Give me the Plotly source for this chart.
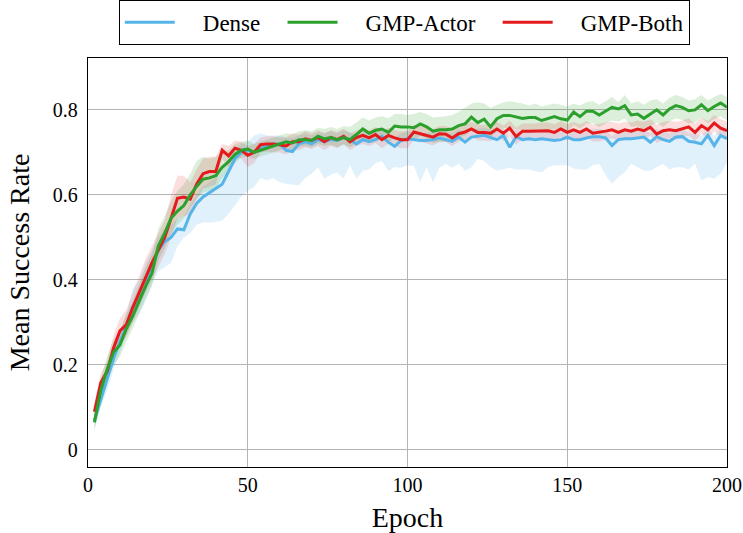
import plotly.graph_objects as go

epochs = list(range(2, 201, 2))

dense_mean = [0.07,0.12,0.165,0.215,0.255,0.29,0.335,0.355,0.385,0.43,
0.47,0.49,0.50,0.52,0.518,0.555,0.58,0.595,0.605,0.615,
0.625,0.655,0.685,0.70,0.705,0.70,0.71,0.715,0.72,0.72,
0.705,0.702,0.72,0.725,0.72,0.73,0.725,0.73,0.728,0.735,
0.73,0.72,0.73,0.725,0.73,0.738,0.724,0.714,0.728,0.732,
0.73,0.728,0.728,0.73,0.734,0.73,0.726,0.736,0.724,0.736,
0.738,0.74,0.735,0.73,0.74,0.712,0.737,0.73,0.732,0.73,
0.732,0.73,0.728,0.73,0.736,0.73,0.73,0.734,0.737,0.737,
0.734,0.716,0.73,0.732,0.732,0.734,0.736,0.724,0.737,0.73,
0.726,0.736,0.737,0.726,0.724,0.72,0.74,0.716,0.74,0.732]

dense_upper = [0.09,0.15,0.19,0.24,0.28,0.32,0.38,0.40,0.44,0.47,
0.50,0.52,0.53,0.545,0.55,0.58,0.60,0.62,0.63,0.64,
0.655,0.685,0.71,0.72,0.725,0.74,0.745,0.74,0.74,0.74,
0.735,0.735,0.74,0.745,0.74,0.748,0.745,0.75,0.745,0.752,
0.748,0.74,0.748,0.745,0.748,0.755,0.742,0.735,0.745,0.75,
0.748,0.746,0.746,0.748,0.752,0.748,0.745,0.754,0.744,0.754,
0.756,0.758,0.753,0.75,0.758,0.735,0.755,0.748,0.75,0.748,
0.75,0.748,0.746,0.748,0.754,0.748,0.748,0.752,0.755,0.755,
0.752,0.738,0.748,0.75,0.75,0.752,0.754,0.745,0.755,0.748,
0.745,0.754,0.755,0.745,0.744,0.74,0.758,0.738,0.758,0.752]

dense_lower = [0.05,0.10,0.14,0.19,0.23,0.27,0.30,0.32,0.35,0.39,
0.42,0.43,0.44,0.48,0.50,0.51,0.53,0.535,0.535,0.536,
0.54,0.555,0.575,0.596,0.61,0.618,0.64,0.634,0.64,0.63,
0.626,0.624,0.622,0.64,0.65,0.665,0.638,0.648,0.652,0.638,
0.67,0.638,0.657,0.66,0.675,0.68,0.656,0.665,0.664,0.67,
0.668,0.63,0.665,0.63,0.664,0.673,0.664,0.673,0.657,0.665,
0.685,0.68,0.665,0.657,0.66,0.664,0.66,0.66,0.66,0.655,
0.653,0.665,0.67,0.67,0.67,0.662,0.66,0.66,0.67,0.673,
0.646,0.626,0.642,0.653,0.673,0.665,0.657,0.657,0.665,0.673,
0.66,0.665,0.665,0.66,0.673,0.634,0.642,0.638,0.65,0.677]

actor_mean = [0.065,0.14,0.19,0.23,0.247,0.285,0.315,0.35,0.385,0.415,
0.48,0.51,0.545,0.562,0.575,0.60,0.62,0.637,0.64,0.645,
0.665,0.678,0.695,0.705,0.708,0.70,0.705,0.71,0.715,0.72,
0.725,0.722,0.73,0.73,0.728,0.738,0.732,0.735,0.73,0.735,
0.73,0.742,0.755,0.745,0.752,0.755,0.747,0.762,0.76,0.76,
0.758,0.767,0.76,0.75,0.753,0.753,0.755,0.763,0.767,0.783,
0.77,0.778,0.76,0.779,0.787,0.787,0.784,0.78,0.782,0.782,
0.775,0.78,0.784,0.779,0.776,0.795,0.784,0.797,0.797,0.788,
0.798,0.806,0.802,0.81,0.788,0.79,0.78,0.79,0.80,0.788,
0.802,0.81,0.806,0.798,0.80,0.812,0.798,0.808,0.816,0.806]

actor_upper = [0.08,0.17,0.22,0.26,0.28,0.32,0.35,0.39,0.43,0.46,
0.52,0.55,0.585,0.61,0.625,0.65,0.68,0.69,0.685,0.69,
0.70,0.705,0.72,0.725,0.728,0.72,0.725,0.73,0.735,0.74,
0.745,0.742,0.75,0.752,0.75,0.758,0.755,0.76,0.755,0.762,
0.76,0.77,0.782,0.775,0.782,0.785,0.78,0.79,0.79,0.788,
0.79,0.795,0.79,0.782,0.783,0.785,0.788,0.795,0.805,0.815,
0.818,0.815,0.805,0.812,0.818,0.82,0.818,0.815,0.81,0.815,
0.808,0.812,0.815,0.812,0.808,0.815,0.81,0.818,0.82,0.812,
0.82,0.83,0.818,0.835,0.815,0.82,0.812,0.822,0.825,0.815,
0.828,0.835,0.83,0.822,0.825,0.835,0.822,0.83,0.838,0.83]

actor_lower = [0.045,0.11,0.16,0.20,0.22,0.255,0.285,0.32,0.355,0.385,
0.445,0.475,0.51,0.53,0.545,0.57,0.59,0.605,0.61,0.615,
0.64,0.655,0.675,0.688,0.69,0.685,0.69,0.695,0.70,0.705,
0.71,0.705,0.712,0.715,0.712,0.72,0.715,0.718,0.712,0.718,
0.712,0.72,0.73,0.722,0.728,0.73,0.722,0.735,0.732,0.732,
0.73,0.74,0.732,0.722,0.725,0.725,0.728,0.735,0.74,0.752,
0.742,0.748,0.735,0.75,0.758,0.757,0.755,0.752,0.752,0.752,
0.748,0.752,0.755,0.75,0.748,0.765,0.755,0.768,0.768,0.76,
0.768,0.775,0.772,0.78,0.76,0.762,0.752,0.762,0.77,0.76,
0.772,0.78,0.776,0.768,0.77,0.782,0.768,0.778,0.785,0.775]

both_mean = [0.09,0.158,0.185,0.24,0.28,0.295,0.335,0.37,0.405,0.44,
0.47,0.50,0.545,0.592,0.595,0.59,0.625,0.65,0.655,0.655,
0.705,0.692,0.71,0.705,0.693,0.70,0.718,0.72,0.72,0.718,
0.715,0.725,0.725,0.732,0.728,0.735,0.725,0.735,0.73,0.738,
0.725,0.735,0.74,0.734,0.742,0.73,0.74,0.734,0.73,0.73,
0.748,0.744,0.74,0.736,0.744,0.743,0.734,0.744,0.748,0.755,
0.747,0.747,0.745,0.755,0.745,0.757,0.737,0.75,0.75,0.75,
0.75,0.751,0.747,0.755,0.747,0.753,0.747,0.755,0.745,0.747,
0.75,0.753,0.747,0.753,0.75,0.755,0.751,0.759,0.743,0.751,
0.753,0.751,0.755,0.76,0.747,0.763,0.753,0.769,0.757,0.751]

both_upper = [0.11,0.18,0.21,0.27,0.31,0.33,0.37,0.41,0.45,0.48,
0.51,0.54,0.60,0.645,0.645,0.63,0.66,0.685,0.69,0.69,
0.72,0.715,0.728,0.725,0.715,0.72,0.735,0.738,0.738,0.735,
0.735,0.745,0.742,0.75,0.745,0.752,0.745,0.752,0.748,0.755,
0.745,0.752,0.758,0.752,0.76,0.75,0.758,0.752,0.75,0.75,
0.765,0.762,0.758,0.755,0.762,0.762,0.755,0.762,0.765,0.772,
0.765,0.765,0.763,0.772,0.763,0.775,0.758,0.768,0.768,0.768,
0.77,0.77,0.766,0.774,0.766,0.772,0.766,0.774,0.765,0.768,
0.77,0.772,0.768,0.772,0.77,0.775,0.772,0.778,0.765,0.772,
0.774,0.772,0.775,0.78,0.768,0.782,0.774,0.788,0.778,0.772]

both_lower = [0.07,0.13,0.16,0.21,0.25,0.265,0.30,0.335,0.37,0.40,
0.43,0.46,0.50,0.545,0.55,0.555,0.59,0.615,0.62,0.625,
0.685,0.665,0.69,0.685,0.665,0.675,0.70,0.702,0.70,0.70,
0.695,0.705,0.705,0.712,0.708,0.715,0.705,0.715,0.71,0.72,
0.705,0.715,0.72,0.715,0.722,0.71,0.72,0.715,0.71,0.71,
0.73,0.725,0.72,0.716,0.725,0.724,0.715,0.725,0.73,0.737,
0.728,0.728,0.727,0.737,0.727,0.738,0.718,0.732,0.732,0.732,
0.73,0.732,0.728,0.736,0.728,0.734,0.728,0.736,0.725,0.726,
0.73,0.734,0.726,0.734,0.73,0.736,0.73,0.74,0.722,0.73,
0.732,0.73,0.735,0.74,0.726,0.744,0.732,0.75,0.736,0.73]

series_names = ["Dense", "GMP-Actor", "GMP-Both"]
line_colors = ["#56B4E9", "#2CA02C", "#E41A1C"]
fill_colors = ["rgba(86,180,233,0.18)", "rgba(44,160,44,0.17)", "rgba(228,26,28,0.14)"]

means = [dense_mean, actor_mean, both_mean]
uppers = [dense_upper, actor_upper, both_upper]
lowers = [dense_lower, actor_lower, both_lower]

fig = go.Figure()
for i in range(3):
    fig.add_trace(go.Scatter(
        x=epochs + epochs[::-1],
        y=uppers[i] + lowers[i][::-1],
        fill="toself", fillcolor=fill_colors[i],
        line=dict(width=0), mode="lines",
        showlegend=False, hoverinfo="skip"))

draw_order = [0, 2, 1]
ranks = {0: 1, 1: 2, 2: 3}
pad_l = "\u2002\u2002"
pad_r = "\u2002\u2005"
for i in draw_order:
    fig.add_trace(go.Scatter(
        x=epochs, y=means[i], mode="lines",
        name=pad_l + series_names[i] + (pad_r if i < 2 else ""),
        line=dict(color=line_colors[i], width=3),
        legendrank=ranks[i]))

font_family = "Liberation Serif, DejaVu Serif, serif"
fig.update_layout(
    width=743, height=533,
    margin=dict(l=88, r=16, t=58, b=66, autoexpand=False),
    paper_bgcolor="white", plot_bgcolor="white",
    font=dict(family=font_family, color="black", size=19),
    showlegend=True,
    legend=dict(
        orientation="h", x=0.495, xanchor="center", y=1.142, yanchor="top",
        bordercolor="black", borderwidth=1, bgcolor="white",
        font=dict(size=23, family=font_family),
        itemwidth=50, traceorder="normal",
    ),
    xaxis=dict(
        range=[0, 200], tickvals=[0, 50, 100, 150, 200],
        showgrid=True, gridcolor="#b4b4b4", gridwidth=1,
        showline=True, linecolor="black", linewidth=1.3, mirror=True,
        zeroline=False, ticks="", tickfont=dict(size=20),
        ticklabelstandoff=0, automargin=False,
        title=dict(text="Epoch", font=dict(size=28), standoff=12),
    ),
    yaxis=dict(
        range=[-0.04, 0.922], tickvals=[0, 0.2, 0.4, 0.6, 0.8],
        showgrid=True, gridcolor="#b4b4b4", gridwidth=1,
        showline=True, linecolor="black", linewidth=1.3, mirror=True,
        zeroline=False, ticks="", tickfont=dict(size=20),
        ticklabelstandoff=5, automargin=False,
        title=dict(text="Mean Success Rate", font=dict(size=28), standoff=15),
    ),
)

fig.write_html("out.html")
